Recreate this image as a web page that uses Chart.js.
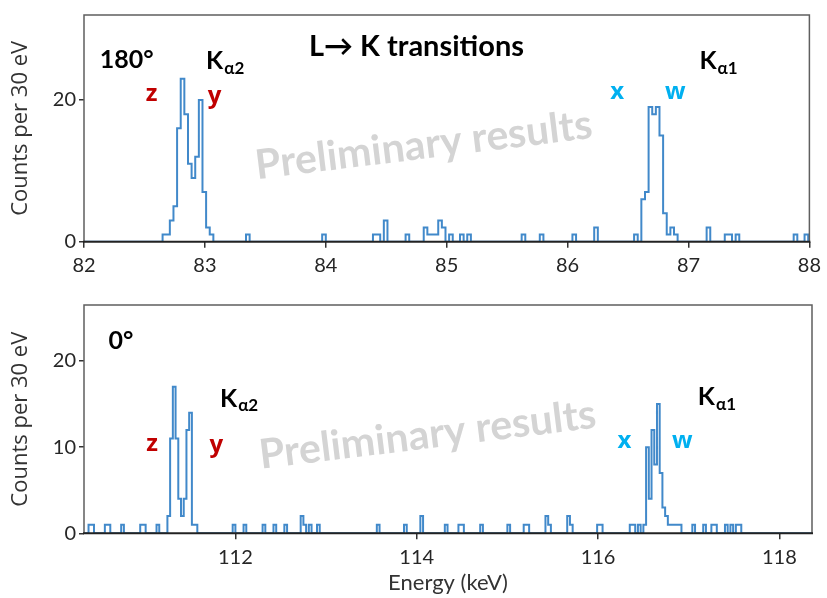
<!DOCTYPE html>
<html><head><meta charset="utf-8">
<script src="https://cdn.jsdelivr.net/npm/chart.js@4.4.1/dist/chart.umd.min.js"></script>
<style>
html,body{margin:0;padding:0;background:#fff;width:827px;height:598px;overflow:hidden}
.wrap{position:absolute;left:0;width:827px}
#w1{top:0;height:290px}
#w2{top:290px;height:308px}
canvas{display:block}
</style></head><body>
<div class="wrap" id="w1"><canvas id="c1" width="827" height="290"></canvas></div>
<div class="wrap" id="w2"><canvas id="c2" width="827" height="308"></canvas></div>
<script>
// ---------------- DATA ----------------
const binWidth = 0.03; // keV (30 eV bins)

// Top panel (180°): left bin edges (keV) of non-empty bins and their counts
const topEdges = [82.65, 82.68, 82.71, 82.74, 82.77, 82.80, 82.83, 82.86, 82.89, 82.92, 82.95, 82.98, 83.01, 83.04,
  83.34, 83.97, 84.39, 84.42, 84.48, 84.66, 84.81, 84.84, 84.87, 84.90, 84.93, 84.96, 85.02, 85.11, 85.17,
  85.62, 85.77, 86.04, 86.22, 86.55,
  86.61, 86.64, 86.67, 86.70, 86.73, 86.76, 86.79, 86.82, 86.85, 86.88,
  87.15, 87.30, 87.33, 87.39, 87.87, 87.96];
const topCounts = [1, 1, 3, 5, 16, 23, 18, 11, 9, 12, 20, 7, 2, 1,
  1, 1, 1, 1, 3, 1, 2, 1, 1, 1, 3, 2, 1, 1, 1,
  1, 1, 1, 2, 1,
  6, 7, 19, 18, 19, 15, 4, 1, 2, 1,
  2, 1, 1, 1, 1, 1];

// Bottom panel (0°)
const botEdges = [110.38, 110.41, 110.56, 110.59, 110.74, 110.95, 110.98, 111.13,
  111.25, 111.28, 111.31, 111.34, 111.37, 111.40, 111.43, 111.46, 111.49, 111.52, 111.55,
  111.97, 112.09, 112.30, 112.42, 112.54, 112.72, 112.75, 112.81, 112.90,
  113.56, 113.86, 114.04, 114.31, 114.46, 114.49, 114.70, 115.00, 115.18, 115.21,
  115.42, 115.45, 115.66, 115.69, 115.99, 116.02,
  116.35, 116.38, 116.44, 116.50,
  116.53, 116.56, 116.59, 116.62, 116.65, 116.68, 116.71, 116.74, 116.77, 116.80, 116.83, 116.86, 116.89,
  117.04, 117.16, 117.25, 117.28, 117.40, 117.46, 117.52, 117.55];
const botCounts = [1, 1, 1, 1, 1, 1, 1, 1,
  2, 11, 17, 11, 4, 2, 4, 12, 14, 1, 1,
  1, 1, 1, 1, 1, 2, 1, 1, 1,
  1, 1, 2, 1, 1, 1, 1, 1, 1, 1,
  2, 1, 2, 1, 1, 1,
  1, 1, 1, 1,
  10, 4, 12, 8, 15, 7, 3, 2, 1, 1, 1, 1, 1,
  1, 1, 1, 1, 1, 1, 1, 1];

// Axis ranges / ticks
const topXRange = [82, 88], topXStep = 1;
const topYRange = [0, 32], topYStep = 20;
const botXRange = [110.33, 118.36], botXStep = 2;
const botYRange = [0, 26.5], botYStep = 10;

// ---------------- HELPERS ----------------
function stepSeries(edges, counts, w, xmin, xmax) {
  const pts = [{x: xmin, y: 0}];
  for (let i = 0; i < edges.length; i++) {
    if (i > 0) {
      const prevEnd = edges[i - 1] + w;
      if (edges[i] - prevEnd > 1e-6) pts.push({x: prevEnd, y: 0});
    }
    pts.push({x: edges[i], y: counts[i]});
  }
  pts.push({x: edges[edges.length - 1] + w, y: 0});
  pts.push({x: xmax, y: 0});
  return pts;
}

const LINE = '#4189CA';
const RED = '#C00000';
const CYAN = '#00B0F0';

const framePlugin = {
  id: 'frame',
  afterDatasetsDraw(chart) {
    const {ctx, chartArea: a} = chart;
    ctx.save();
    ctx.strokeStyle = '#5f5f5f'; ctx.lineWidth = 1.5;
    ctx.beginPath();
    ctx.moveTo(a.left, a.bottom); ctx.lineTo(a.left, a.top);
    ctx.lineTo(a.right, a.top); ctx.lineTo(a.right, a.bottom);
    ctx.stroke();
    ctx.strokeStyle = '#222'; ctx.lineWidth = 2;
    ctx.beginPath(); ctx.moveTo(a.left - 1, a.bottom); ctx.lineTo(a.right + 1, a.bottom); ctx.stroke();
    ctx.restore();
  }
};

const textPlugin = {
  id: 'texts',
  beforeDatasetsDraw(chart, args, opts) {
    const {ctx, scales} = chart;
    (opts.marks || []).forEach(m => {
      const px = scales.x.getPixelForValue(m.x), py = scales.y.getPixelForValue(m.y);
      ctx.save();
      ctx.translate(px, py); ctx.rotate(m.rot * Math.PI / 180);
      ctx.font = m.font; ctx.fillStyle = m.color;
      ctx.textAlign = 'center'; ctx.textBaseline = 'middle';
      ctx.fillText(m.t, 0, 0);
      ctx.restore();
    });
  },
  afterDraw(chart, args, opts) {
    const {ctx, scales} = chart;
    (opts.items || []).forEach(m => {
      const px = scales.x.getPixelForValue(m.x), py = scales.y.getPixelForValue(m.y);
      ctx.save();
      ctx.font = m.font; ctx.fillStyle = m.color;
      ctx.textAlign = m.align || 'center'; ctx.textBaseline = 'middle';
      ctx.fillText(m.t, px, py);
      if (m.sub) {
        const w = ctx.measureText(m.t).width;
        const sx = m.align === 'left' ? px + w : px + w / 2;
        ctx.font = m.subFont; ctx.textAlign = 'left';
        ctx.fillText(m.sub, sx + 1, py + 7);
      }
      ctx.restore();
    });
  }
};

Chart.defaults.font.family = 'Lato, "DejaVu Sans", sans-serif';
Chart.defaults.color = '#262626';

function makeChart(id, o) {
  return new Chart(document.getElementById(id), {
    type: 'line',
    data: {datasets: [{
      data: stepSeries(o.edges, o.counts, binWidth, o.xr[0], o.xr[1]),
      borderColor: LINE, borderWidth: 2, pointRadius: 0, stepped: 'before',
      fill: false, tension: 0, borderJoinStyle: 'miter'
    }]},
    options: {
      responsive: false, animation: false, devicePixelRatio: 1,
      layout: {padding: {top: o.padTop, right: o.padRight, left: 0, bottom: 0}},
      plugins: {
        legend: {display: false}, tooltip: {enabled: false},
        texts: {items: o.items, marks: o.marks}
      },
      scales: {
        x: {
          type: 'linear', min: o.xr[0], max: o.xr[1],
          afterFit: s => { s.height = o.xH; },
          border: {display: false},
          grid: {drawOnChartArea: false, drawTicks: true, tickLength: 6, color: '#333', lineWidth: 1.5},
          ticks: {stepSize: o.xs, includeBounds: false, autoSkip: false, maxRotation: 0, padding: 6,
                  color: '#262626', font: {size: 20}},
          title: o.xTitle ? {display: true, text: o.xTitle, color: '#333', font: {size: 22}, padding: {top: 0, bottom: 2}} : {display: false}
        },
        y: {
          min: o.yr[0], max: o.yr[1],
          afterFit: s => { s.width = 84; },
          border: {display: false},
          grid: {drawOnChartArea: false, drawTicks: true, tickLength: 5, color: '#333', lineWidth: 1.5},
          ticks: {stepSize: o.ys, includeBounds: false, padding: 3, color: '#262626', font: {size: 20}},
          title: {display: true, text: 'Counts per 30 eV', color: '#333',
                  font: {family: '"Open Sans", sans-serif', size: 22}, padding: {top: 8, bottom: 0}}
        }
      }
    },
    plugins: [framePlugin, textPlugin]
  });
}

makeChart('c1', {
  edges: topEdges, counts: topCounts, xr: topXRange, xs: topXStep, yr: topYRange, ys: topYStep,
  padTop: 11.7, padRight: 11.6, xH: 48.3,
  marks: [{t: 'Preliminary results', x: 84.81, y: 13.6, rot: -7, font: 'bold 41px Lato', color: '#D4D4D4'}],
  items: [
    {t: 'L\u2192 K transitions', x: 84.75, y: 27.6, font: 'bold 29px Lato', color: '#000'},
    {t: '180\u00b0', x: 82.13, y: 25.6, font: 'bold 25px Lato', color: '#000', align: 'left'},
    {t: 'K', x: 83.01, y: 25.5, font: 'bold 25px Lato', color: '#000', align: 'left', sub: '\u03b12', subFont: 'bold 17px Lato'},
    {t: 'K', x: 87.09, y: 25.5, font: 'bold 25px Lato', color: '#000', align: 'left', sub: '\u03b11', subFont: 'bold 17px Lato'},
    {t: 'z', x: 82.56, y: 20.8, font: 'bold 24px "Open Sans"', color: RED},
    {t: 'y', x: 83.08, y: 20.6, font: 'bold 24px "Open Sans"', color: RED},
    {t: 'x', x: 86.41, y: 21.1, font: 'bold 24px "Open Sans"', color: CYAN},
    {t: 'w', x: 86.89, y: 21.1, font: 'bold 24px "Open Sans"', color: CYAN}
  ]
});

makeChart('c2', {
  edges: botEdges, counts: botCounts, xr: botXRange, xs: botXStep, yr: botYRange, ys: botYStep,
  padTop: 9.3, padRight: 15, xH: 64.7, xTitle: 'Energy (keV)',
  marks: [{t: 'Preliminary results', x: 114.12, y: 11.4, rot: -7, font: 'bold 41px Lato', color: '#D4D4D4'}],
  items: [
    {t: '0\u00b0', x: 110.60, y: 22.3, font: 'bold 25px Lato', color: '#000', align: 'left'},
    {t: 'K', x: 111.83, y: 15.6, font: 'bold 25px Lato', color: '#000', align: 'left', sub: '\u03b12', subFont: 'bold 17px Lato'},
    {t: 'K', x: 117.10, y: 15.8, font: 'bold 25px Lato', color: '#000', align: 'left', sub: '\u03b11', subFont: 'bold 17px Lato'},
    {t: 'z', x: 111.08, y: 10.4, font: 'bold 24px "Open Sans"', color: RED},
    {t: 'y', x: 111.79, y: 10.2, font: 'bold 24px "Open Sans"', color: RED},
    {t: 'x', x: 116.29, y: 10.7, font: 'bold 24px "Open Sans"', color: CYAN},
    {t: 'w', x: 116.93, y: 10.7, font: 'bold 24px "Open Sans"', color: CYAN}
  ]
});
</script></body></html>
